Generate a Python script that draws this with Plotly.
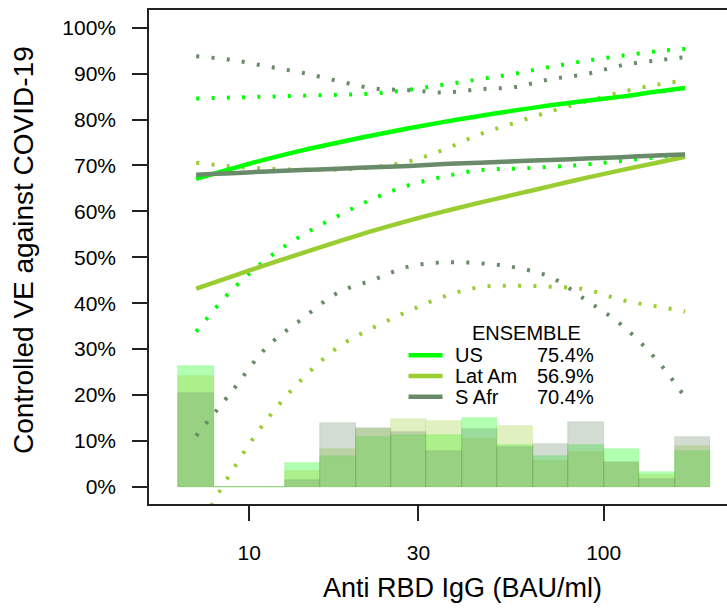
import numpy as np
import plotly.graph_objects as go

# Antibody levels (BAU/ml) at which the fitted VE curves are evaluated
antibody = [7.08, 8.91, 11.2, 14.1, 17.8, 22.4, 28.2, 35.5, 44.7, 56.2,
            70.8, 89.1, 112.2, 141.3, 169.8]

# Controlled VE (%) with pointwise 95% confidence bounds
us_ve = [67.1, 69.3, 71.4, 73.3, 75.0, 76.6, 78.1, 79.5, 80.8, 82.0, 83.1, 84.1, 85.0, 86.1, 86.9]
us_lo = [33.8, 42.8, 49.6, 54.8, 59.0, 62.8, 65.7, 67.6, 69.0, 69.3, 69.7, 70.2, 71.0, 71.8, 72.3]
us_hi = [84.6, 84.8, 85.0, 85.2, 85.4, 85.7, 86.5, 87.6, 88.8, 90.0, 91.5, 92.8, 93.9, 94.9, 95.4]

latam_ve = [43.2, 45.8, 48.4, 50.9, 53.4, 55.8, 58.0, 60.0, 61.9, 63.7, 65.5, 67.3, 69.0, 70.6, 71.9]
latam_lo = [-10.0, 3.3, 14.6, 23.5, 30.4, 34.7, 38.3, 41.5, 43.5, 43.8, 43.6, 43.0, 40.7, 39.3, 38.2]
latam_hi = [70.6, 69.8, 69.3, 69.1, 69.1, 69.6, 70.9, 73.5, 76.8, 79.3, 81.8, 83.9, 86.0, 87.6, 88.5]

safr_ve = [68.0, 68.3, 68.7, 69.0, 69.3, 69.6, 69.9, 70.3, 70.6, 70.9, 71.2, 71.5, 71.8, 72.2, 72.4]
safr_lo = [11.1, 20.7, 30.4, 36.6, 42.3, 45.1, 48.0, 48.9, 48.7, 47.8, 45.7, 40.7, 35.3, 27.6, 19.5]
safr_hi = [93.8, 93.0, 91.6, 90.2, 88.4, 86.8, 86.4, 85.9, 86.6, 87.1, 88.8, 89.9, 91.8, 92.9, 93.6]

# Distribution of antibody levels among vaccinees (log10 bins of width 0.1)
log_bin_edges = [0.8, 0.9, 1.0, 1.1, 1.2, 1.3, 1.4, 1.5, 1.6, 1.7, 1.8, 1.9, 2.0, 2.1, 2.2, 2.3]
us_hist = [26.4, 0, 0, 5.1, 6.8, 10.8, 11.4, 11.2, 15.1, 9.2, 6.8, 9.2, 8.3, 3.3, 7.7]
latam_hist = [24.2, 0, 0, 3.5, 8.3, 12.6, 14.8, 14.4, 10.5, 13.3, 5.6, 7.5, 5.1, 2.6, 9.0]
safr_hist = [20.4, 0, 0, 1.4, 13.8, 12.8, 12.0, 7.8, 12.7, 8.6, 9.4, 14.2, 5.5, 1.8, 10.9]

# Legend content
regions = ["US", "Lat Am", "S Afr"]
overall_ve = ["75.4%", "56.9%", "70.4%"]
legend_title = "ENSEMBLE"

x_ticks = [10, 30, 100]
y_ticks = list(range(0, 101, 10))

colors = ["#00FF00", "#9ACD32", "#698B69"]
hist_colors = ["rgba(0,255,0,0.3)", "rgba(154,205,50,0.3)", "rgba(105,139,105,0.3)"]

FONT = "Liberation Sans, Arial, Helvetica, sans-serif"
W, H = 727, 608
ML, MR, MT, MB = 149, 0, 9.5, 103.5
X_LOG_RANGE = [0.717, 2.348]
Y_RANGE = [-3.74, 103.87]


def paper_x(px):
    return (px - ML) / (W - ML - MR)


def paper_y(py):
    return (H - MB - py) / (H - MT - MB)


fig = go.Figure()

# Histograms on a linear log10 axis underneath the curves
edges = np.array(log_bin_edges)
centers = (edges[:-1] + edges[1:]) / 2
widths = np.diff(edges)
for heights, col in zip([us_hist, latam_hist, safr_hist], hist_colors):
    fig.add_trace(go.Bar(
        x=centers, y=heights, width=widths, xaxis="x", yaxis="y",
        marker=dict(color=col, line=dict(width=0.6, color=col)),
        showlegend=False, hoverinfo="skip",
    ))

# VE curves with dotted confidence bounds on the log axis
for ve, lo, hi, col in [(us_ve, us_lo, us_hi, colors[0]),
                        (latam_ve, latam_lo, latam_hi, colors[1]),
                        (safr_ve, safr_lo, safr_hi, colors[2])]:
    for bound in (lo, hi):
        fig.add_trace(go.Scatter(
            x=antibody, y=bound, mode="lines", xaxis="x2", yaxis="y",
            line=dict(color=col, width=4, dash="3px,12.3px", shape="spline"),
            showlegend=False, hoverinfo="skip",
        ))
for ve, col in [(us_ve, colors[0]), (latam_ve, colors[1]), (safr_ve, colors[2])]:
    fig.add_trace(go.Scatter(
        x=antibody, y=ve, mode="lines", xaxis="x2", yaxis="y",
        line=dict(color=col, width=4.5, shape="spline"),
        showlegend=False, hoverinfo="skip",
    ))

axis_line = dict(showline=True, linecolor="#222222", linewidth=1.6,
                 ticks="outside", ticklen=15, tickwidth=1.6, tickcolor="#222222",
                 showgrid=False, zeroline=False,
                 tickfont=dict(family=FONT, size=21, color="#000000"))

fig.update_layout(
    width=W, height=H,
    margin=dict(l=ML, r=MR, t=MT, b=MB, pad=0),
    paper_bgcolor="white", plot_bgcolor="white",
    barmode="overlay", bargap=0,
    font=dict(family=FONT, color="#000000"),
    xaxis=dict(range=X_LOG_RANGE, visible=False, fixedrange=True),
    xaxis2=dict(type="log", range=X_LOG_RANGE, overlaying="x", anchor="y", side="bottom",
                tickvals=x_ticks, ticktext=[str(v) for v in x_ticks],
                mirror=True, ticklabelstandoff=14, **axis_line),
    yaxis=dict(range=Y_RANGE, tickvals=y_ticks, ticktext=[f"{v}%" for v in y_ticks],
               ticklabelstandoff=12, **axis_line),
)

annotations = [
    dict(text="Anti RBD IgG (BAU/ml)", x=paper_x(462), y=paper_y(589),
         font=dict(size=27, family=FONT)),
    dict(text="Controlled VE against COVID-19", x=paper_x(23), y=paper_y(250),
         textangle=-90, font=dict(size=28, family=FONT)),
    dict(text=legend_title, x=paper_x(526), y=paper_y(333.5), font=dict(size=20, family=FONT)),
]
shapes = []
row_y = [355.5, 376.3, 397.0]
for name, ve_txt, col, ry in zip(regions, overall_ve, colors, row_y):
    annotations.append(dict(text=name, x=paper_x(453), y=paper_y(ry), xanchor="left",
                            font=dict(size=20, family=FONT)))
    annotations.append(dict(text=ve_txt, x=paper_x(595.5), y=paper_y(ry), xanchor="right",
                            font=dict(size=20, family=FONT)))
    shapes.append(dict(type="line", xref="paper", yref="paper",
                       x0=paper_x(408.5), x1=paper_x(442.5), y0=paper_y(ry), y1=paper_y(ry),
                       line=dict(color=col, width=4.5)))

for a in annotations:
    a.setdefault("xanchor", "center")
    a.update(xref="paper", yref="paper", yanchor="middle", showarrow=False)

fig.update_layout(annotations=annotations, shapes=shapes)

fig.write_html("out.html")
